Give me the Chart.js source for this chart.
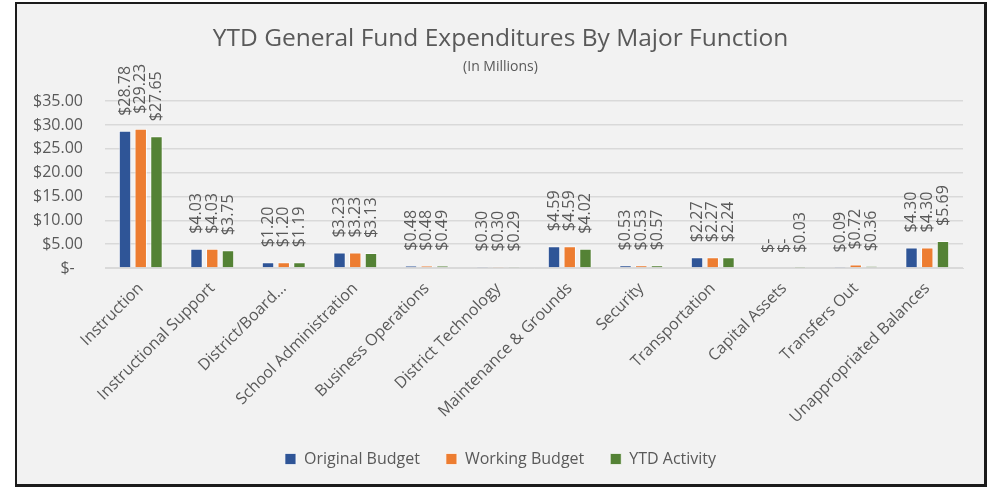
<!DOCTYPE html>
<html>
<head>
<meta charset="utf-8">
<script src="https://cdn.jsdelivr.net/npm/chart.js@4.4.0/dist/chart.umd.min.js"></script>
<style>
  html, body { margin: 0; padding: 0; background: #fff; }
  #box {
    position: absolute; left: 15px; top: 2px;
    width: 967px; height: 480px;
    border: 2px solid #1b1b1b; border-right-width: 3px; border-bottom-width: 3px;
    background: #f2f2f2;
  }
</style>
</head>
<body>
<div id="box"><canvas id="FundChart" width="967" height="480"></canvas></div>
<script>
const categories = ['Instruction', 'Instructional Support', 'District/Board...', 'School Administration',
  'Business Operations', 'District Technology', 'Maintenance & Grounds', 'Security',
  'Transportation', 'Capital Assets', 'Transfers Out', 'Unappropriated Balances'];
const originalBudget = [28.78, 4.03, 1.20, 3.23, 0.48, 0.30, 4.59, 0.53, 2.27, 0, 0.09, 4.30];
const workingBudget  = [29.23, 4.03, 1.20, 3.23, 0.48, 0.30, 4.59, 0.53, 2.27, 0, 0.72, 4.30];
const ytdActivity    = [27.65, 3.75, 1.19, 3.13, 0.49, 0.29, 4.02, 0.57, 2.24, 0.03, 0.36, 5.69];
const yTicks = [0, 5, 10, 15, 20, 25, 30, 35];

function money(v) {
  return v === 0 ? '$-' : '$' + v.toFixed(2);
}

// values written upright above each bar
const barValueLabels = {
  id: 'barValueLabels',
  afterDatasetsDraw(chart) {
    const ctx = chart.ctx;
    ctx.save();
    ctx.font = '16px "Open Sans"';
    ctx.fillStyle = '#595959';
    ctx.textAlign = 'left';
    ctx.textBaseline = 'middle';
    chart.data.datasets.forEach((ds, i) => {
      chart.getDatasetMeta(i).data.forEach((bar, j) => {
        ctx.save();
        ctx.translate(bar.x, bar.y - 15);
        ctx.rotate(-Math.PI / 2);
        ctx.fillText(money(ds.data[j]), 0, 0);
        ctx.restore();
      });
    });
    ctx.restore();
  }
};

Chart.defaults.font.family = '"Open Sans", sans-serif';
Chart.defaults.color = '#595959';

let FundChart = document.getElementById('FundChart').getContext('2d');

const FundChartv = new Chart(FundChart, {
  type: 'bar',
  data: {
    labels: categories,
    datasets: [
      { label: 'Original Budget', data: originalBudget, backgroundColor: '#2f5597' },
      { label: 'Working Budget', data: workingBudget, backgroundColor: '#ed7d31' },
      { label: 'YTD Activity', data: ytdActivity, backgroundColor: '#548235' },
    ]
  },
  plugins: [barValueLabels],
  options: {
    responsive: false,
    animation: false,
    datasets: {
      bar: {
        categoryPercentage: 0.66,
        barPercentage: 0.79,
        borderWidth: 1,
        borderColor: 'rgba(255,255,255,0.7)',
      }
    },
    layout: { padding: { left: 0, right: 0, top: 0, bottom: 7 } },
    plugins: {
      title: {
        display: true,
        text: 'YTD General Fund Expenditures By Major Function',
        font: { size: 24.5, weight: 'normal' },
        color: '#595959',
        padding: { top: 20, bottom: 0 },
      },
      subtitle: {
        display: true,
        text: '(In Millions)',
        font: { size: 14 },
        color: '#595959',
        padding: { top: 5, bottom: 26 },
      },
      legend: {
        position: 'bottom',
        labels: {
          boxWidth: 11,
          boxHeight: 11,
          padding: 26,
          font: { size: 16 },
          color: '#595959',
        },
      },
      tooltip: { enabled: false },
    },
    scales: {
      x: {
        grid: { display: false },
        border: { color: '#d9d9d9' },
        ticks: {
          autoSkip: false,
          minRotation: 45,
          maxRotation: 45,
          font: { size: 16 },
          color: '#595959',
        },
        afterFit: function (scale) { scale.height = 157; },
      },
      y: {
        min: 0,
        max: 35,
        afterBuildTicks: function (scale) {
          scale.ticks = yTicks.map(v => ({ value: v }));
        },
        grid: { color: '#d9d9d9', lineWidth: 1.5, drawTicks: false },
        border: { display: false },
        ticks: {
          padding: 22,
          font: { size: 16 },
          color: '#595959',
          callback: function (value) {
            return value === 0 ? '$-  ' : '$' + value.toFixed(2);
          },
        },
        afterFit: function (scale) { scale.width = 88; },
      },
      // empty strip on the right so the plot ends before the frame
      rightGap: {
        position: 'right',
        grid: { display: false },
        border: { display: false },
        ticks: { display: false },
        afterFit: function (scale) { scale.width = 21; },
      }
    }
  }
});
</script>
</body>
</html>
